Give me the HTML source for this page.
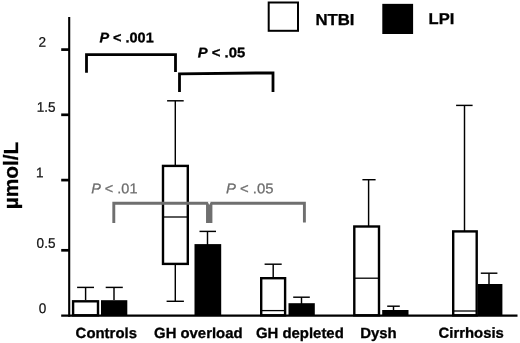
<!DOCTYPE html>
<html><head><meta charset="utf-8"><title>Figure</title>
<style>
html,body{margin:0;padding:0;background:#fff;}
svg{display:block;font-family:"Liberation Sans",Arial,Helvetica,sans-serif;}
.k{stroke:#000;fill:none;}
.g{stroke:#6f6f6f;fill:none;}
.w{stroke:#000;fill:#fff;}
</style></head><body>
<svg width="520" height="343" viewBox="0 0 520 343">
<rect width="520" height="343" fill="#fff"/>
<!-- axes -->
<line class="k" x1="69.2" y1="17" x2="69.2" y2="316.7" stroke-width="2.1"/>
<line class="k" x1="61.2" y1="49.6" x2="69" y2="49.6" stroke-width="2.7"/>
<line class="k" x1="61.2" y1="114.8" x2="69" y2="114.8" stroke-width="2.7"/>
<line class="k" x1="61.2" y1="180.1" x2="69" y2="180.1" stroke-width="2.7"/>
<line class="k" x1="61.2" y1="250.3" x2="69" y2="250.3" stroke-width="2.7"/>
<!-- legend -->
<rect class="w" x="268.7" y="2.5" width="29.3" height="28.3" stroke-width="2"/>
<rect x="382.3" y="3.85" width="30.8" height="30.15" fill="#000"/>
<!-- black brackets -->
<polyline class="k" points="86.5,72.7 86.5,54.6 175.5,54.6 175.5,72" stroke-width="2.8"/>
<polyline class="k" points="179.5,92 179.5,73.8 273,72.8 273,92" stroke-width="2.8"/>
<!-- Controls -->
<g class="k" stroke-width="1.45">
<line x1="85.6" y1="287.4" x2="85.6" y2="300"/><line x1="77.1" y1="287.4" x2="94" y2="287.4"/>
<line x1="114" y1="287.4" x2="114" y2="300"/><line x1="105.7" y1="287.4" x2="122.8" y2="287.4"/>
</g>
<rect class="w" x="73.10" y="301.30" width="24.90" height="14.00" stroke-width="2.4"/>
<rect x="101" y="300.2" width="26.3" height="15" fill="#000"/>
<!-- GH overload -->
<g class="k" stroke-width="1.45">
<line x1="175.3" y1="100.8" x2="175.3" y2="301.3"/><line x1="167.1" y1="100.8" x2="183.7" y2="100.8"/><line x1="166.6" y1="301.3" x2="183.9" y2="301.3"/>
<line x1="207.5" y1="231.4" x2="207.5" y2="245"/><line x1="199.5" y1="231.4" x2="216" y2="231.4"/>
</g>
<rect class="w" x="163.00" y="165.90" width="24.80" height="98.00" stroke-width="2.4"/>
<line class="k" x1="163" y1="217" x2="188" y2="217" stroke-width="1.3"/>
<rect x="194.5" y="244.1" width="26.7" height="71" fill="#000"/>
<!-- GH depleted -->
<g class="k" stroke-width="1.45">
<line x1="273.2" y1="264.2" x2="273.2" y2="278"/><line x1="264.6" y1="264.2" x2="281.7" y2="264.2"/>
<line x1="301.5" y1="297.2" x2="301.5" y2="304"/><line x1="293.2" y1="297.2" x2="309.8" y2="297.2"/>
</g>
<rect class="w" x="261.20" y="278.20" width="23.90" height="37.10" stroke-width="2.4"/>
<line class="k" x1="261" y1="310.6" x2="286" y2="310.6" stroke-width="1.3"/>
<rect x="288.5" y="303.2" width="26.3" height="12" fill="#000"/>
<!-- Dysh -->
<g class="k" stroke-width="1.45">
<line x1="368.6" y1="179.7" x2="368.6" y2="226"/><line x1="362.4" y1="179.7" x2="375.6" y2="179.7"/>
<line x1="393.5" y1="306.2" x2="393.5" y2="311"/><line x1="387.2" y1="306.2" x2="399.8" y2="306.2"/>
</g>
<rect class="w" x="354.30" y="226.50" width="24.70" height="88.80" stroke-width="2.4"/>
<line class="k" x1="355" y1="278.2" x2="379" y2="278.2" stroke-width="1.3"/>
<rect x="382.2" y="310" width="26.3" height="5.5" fill="#000"/>
<!-- Cirrhosis -->
<g class="k" stroke-width="1.45">
<line x1="464.5" y1="105.4" x2="464.5" y2="231"/><line x1="456.1" y1="105.4" x2="472.6" y2="105.4"/>
<line x1="489" y1="273.2" x2="489" y2="285"/><line x1="480.8" y1="273.2" x2="497.4" y2="273.2"/>
</g>
<rect class="w" x="453.20" y="231.40" width="23.50" height="83.90" stroke-width="2.4"/>
<line class="k" x1="453" y1="311" x2="477" y2="311" stroke-width="1.3"/>
<rect x="477.8" y="284" width="24.6" height="31.5" fill="#000"/>
<!-- gray brackets -->
<polyline class="g" points="113.8,222.9 113.8,203.3 207.6,203.3 207.6,222.9" stroke-width="2.9"/>
<polyline class="g" points="210.8,222.9 210.8,203.3 304.4,203.3 304.4,222.6" stroke-width="2.9"/>
<rect x="206.2" y="203" width="6.0" height="19.9" fill="#6f6f6f"/>
<path d="M207.6,201.6 L210.9,201.6 L209.4,204.7 L209.1,204.7 Z" fill="#fff"/>
<!-- x axis on top -->
<line class="k" x1="61.2" y1="315.6" x2="517.5" y2="315.6" stroke-width="2.4"/>

<text transform="translate(38.56,46.75) rotate(0.03) scale(0.9750,1)" font-size="13.90" font-weight="normal" fill="#111" stroke="#111" stroke-width="0.25">2</text>
<text transform="translate(36.68,111.75) rotate(0.03) scale(0.9750,1)" font-size="13.90" font-weight="normal" fill="#111" stroke="#111" stroke-width="0.25">1.5</text>
<text transform="translate(36.07,177.26) rotate(0.03) scale(0.9750,1)" font-size="13.90" font-weight="normal" fill="#111" stroke="#111" stroke-width="0.25">1</text>
<text transform="translate(36.62,247.66) rotate(0.03) scale(0.9750,1)" font-size="13.90" font-weight="normal" fill="#111" stroke="#111" stroke-width="0.25">0.5</text>
<text transform="translate(38.67,313.06) rotate(0.03) scale(0.9750,1)" font-size="13.90" font-weight="normal" fill="#111" stroke="#111" stroke-width="0.25">0</text>
<text transform="translate(99.41,42.35) rotate(0.03) scale(1.0446,1)" font-size="13.86" font-weight="bold" fill="#000" stroke="#000" stroke-width="0.3"><tspan font-style="italic">P</tspan> &lt; .001</text>
<text transform="translate(197.75,57.35) rotate(0.03) scale(1.0720,1)" font-size="13.86" font-weight="bold" fill="#000" stroke="#000" stroke-width="0.3"><tspan font-style="italic">P</tspan> &lt; .05</text>
<text transform="translate(91.19,193.28) rotate(0.03) scale(1.0284,1)" font-size="14.07" font-weight="normal" fill="#6c6c6c" stroke="#6c6c6c" stroke-width="0.25"><tspan font-style="italic">P</tspan> &lt; .01</text>
<text transform="translate(225.93,193.28) rotate(0.03) scale(1.0580,1)" font-size="14.07" font-weight="normal" fill="#6c6c6c" stroke="#6c6c6c" stroke-width="0.25"><tspan font-style="italic">P</tspan> &lt; .05</text>
<text transform="translate(315.45,24.95) rotate(0.03) scale(1.0562,1)" font-size="15.86" font-weight="bold" fill="#000" stroke="#000" stroke-width="0.3">NTBI</text>
<text transform="translate(428.56,23.95) rotate(0.03) scale(1.0534,1)" font-size="15.71" font-weight="bold" fill="#000" stroke="#000" stroke-width="0.3">LPI</text>
<text transform="translate(75.60,338.00) rotate(0.03) scale(1.0180,1)" font-size="14.67" font-weight="bold" fill="#000" stroke="#000" stroke-width="0.3">Controls</text>
<text transform="translate(154.05,338.00) rotate(0.03) scale(1.0159,1)" font-size="14.67" font-weight="bold" fill="#000" stroke="#000" stroke-width="0.3">GH overload</text>
<text transform="translate(255.95,338.00) rotate(0.03) scale(1.0175,1)" font-size="14.67" font-weight="bold" fill="#000" stroke="#000" stroke-width="0.3">GH depleted</text>
<text transform="translate(360.15,338.00) rotate(0.03) scale(1.0206,1)" font-size="14.67" font-weight="bold" fill="#000" stroke="#000" stroke-width="0.3">Dysh</text>
<text transform="translate(438.55,337.80) rotate(0.03) scale(1.0244,1)" font-size="14.53" font-weight="bold" fill="#000" stroke="#000" stroke-width="0.3">Cirrhosis</text>
<text transform="translate(18.10,209.15) rotate(-90) scale(1.0756,1)" font-size="19.35" font-weight="bold" fill="#000" stroke="#000" stroke-width="0.3">µmol/L</text>
</svg>
</body></html>
